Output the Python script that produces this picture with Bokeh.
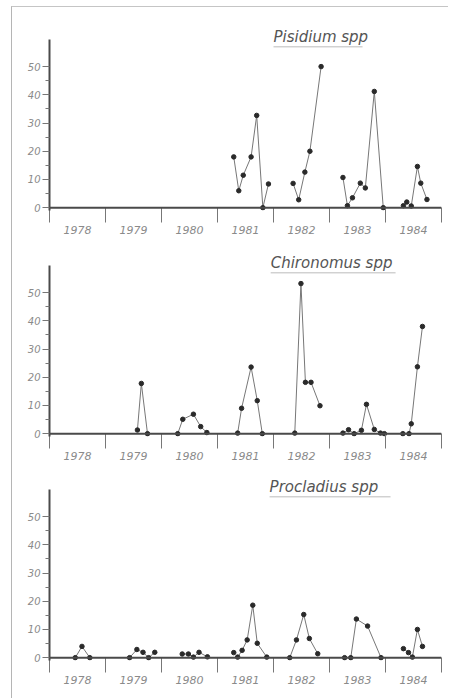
import numpy as np
from bokeh.plotting import figure
from bokeh.layouts import column
from bokeh.models import (Range1d, FixedTicker, CustomJSTickFormatter, Span,
                          Label, Arrow, ColumnDataSource)
from bokeh.embed import file_html
from bokeh.resources import INLINE

nan = float("nan")

# ---- data (decimal year of sampling, count); nan breaks the line between seasons ----
species = ["Pisidium spp", "Chironomus spp", "Procladius spp"]
years = [1978, 1979, 1980, 1981, 1982, 1983, 1984]
y_ticks = [0, 10, 20, 30, 40, 50]

pis_date = [1981.29, 1981.38, 1981.46, 1981.60, 1981.70, 1981.81, 1981.91, nan,
            1982.35, 1982.45, 1982.56, 1982.65, 1982.85, nan,
            1983.24, 1983.32, 1983.41, 1983.55, 1983.64, 1983.80, 1983.96, nan,
            1984.32, 1984.38, 1984.46, 1984.57, 1984.63, 1984.74]
pis_count = [18, 6, 11.5, 18, 32.7, 0, 8.4, nan,
             8.6, 2.8, 12.6, 20, 50, nan,
             10.7, 0.7, 3.5, 8.7, 7, 41.2, 0, nan,
             0.7, 2, 0.6, 14.6, 8.7, 2.9]

chi_date = [1979.57, 1979.64, 1979.75, nan,
            1980.29, 1980.38, 1980.57, 1980.70, 1980.81, nan,
            1981.36, 1981.43, 1981.60, 1981.71, 1981.80, nan,
            1982.38, 1982.49, 1982.57, 1982.67, 1982.83, nan,
            1983.24, 1983.34, 1983.44, 1983.57, 1983.66, 1983.80, 1983.91, 1983.98, nan,
            1984.31, 1984.42, 1984.46, 1984.57, 1984.66]
chi_count = [1.3, 17.8, 0, nan,
             0, 5.1, 6.9, 2.5, 0.4, nan,
             0.2, 9, 23.6, 11.7, 0, nan,
             0.2, 53.2, 18.2, 18.2, 9.9, nan,
             0.2, 1.4, 0, 1.2, 10.4, 1.5, 0.2, 0, nan,
             0, 0, 3.5, 23.7, 38]

pro_date = [1978.46, 1978.58, 1978.72, nan,
            1979.43, 1979.56, 1979.67, 1979.77, 1979.88, nan,
            1980.37, 1980.48, 1980.57, 1980.67, 1980.82, nan,
            1981.29, nan,
            1981.36, 1981.44, 1981.53, 1981.63, 1981.71, 1981.88, nan,
            1982.29, 1982.41, 1982.54, 1982.64, 1982.79, nan,
            1983.27, 1983.38, 1983.48, 1983.68, 1983.92, nan,
            1984.32, 1984.41, 1984.48, 1984.57, 1984.66]
pro_count = [0, 4, 0, nan,
             0, 2.9, 1.9, 0, 1.9, nan,
             1.3, 1.3, 0.2, 1.9, 0.3, nan,
             1.8, nan,
             0.2, 2.6, 6.3, 18.6, 5.1, 0.2, nan,
             0, 6.3, 15.3, 6.8, 1.4, nan,
             0, 0, 13.7, 11.2, 0, nan,
             3.2, 1.8, 0.2, 10, 4]

# title start / underline end (in years along the axis)
title_x = [1982.0, 1981.95, 1981.93]
underline_end = [1983.59, 1984.18, 1984.09]

FONT = "DejaVu Sans"

# figure layout (px)
fig_tops = [21, 14, 12]
fig_bottoms = [30, 30, 38]
FRAME_H = 182


def make_panel(name, dates, counts, tx, uend, top, bottom):
    h = top + FRAME_H + bottom
    p = figure(width=436, height=h,
               x_range=Range1d(1978, 1985), y_range=Range1d(-1, 63.5),
               output_backend="svg", toolbar_location=None,
               min_border_left=37, min_border_right=7,
               min_border_top=top, min_border_bottom=bottom)
    p.outline_line_color = None
    p.xgrid.visible = False
    p.ygrid.visible = False
    p.background_fill_color = "white"
    p.border_fill_color = "white"

    src = ColumnDataSource(dict(date=np.array(dates, dtype=float),
                                count=np.array(counts, dtype=float)))
    p.line("date", "count", source=src, line_color="#777", line_width=1)
    p.scatter("date", "count", source=src, size=4.5, color="#2a2a2a")

    # baseline at zero
    p.add_layout(Span(location=0, dimension="width", line_color="#4a4a4a",
                      line_width=2))

    # x axis: year labels in the middle of each year, ticks at year boundaries
    xa = p.xaxis[0]
    xa.ticker = FixedTicker(ticks=[y + 0.5 for y in years],
                            minor_ticks=years + [years[-1] + 1])
    xa.formatter = CustomJSTickFormatter(code="return String(Math.floor(tick));")
    xa.axis_line_color = None
    xa.major_tick_line_color = None
    xa.major_tick_out = 0
    xa.major_tick_in = 0
    xa.minor_tick_in = 3
    xa.minor_tick_out = 12
    xa.minor_tick_line_color = "#777"
    xa.major_label_standoff = 3
    xa.major_label_text_font = FONT
    xa.major_label_text_font_style = "italic"
    xa.major_label_text_font_size = "11px"
    xa.major_label_text_color = "#8a8a8a"

    # y axis (line only up to ~59.5)
    ya = p.yaxis[0]
    ya.bounds = (-1, 59.5)
    ya.ticker = FixedTicker(ticks=y_ticks,
                            minor_ticks=[t + 5 for t in y_ticks[:-1]])
    ya.axis_line_color = "#4a4a4a"
    ya.axis_line_width = 2
    ya.major_tick_out = 7
    ya.major_tick_in = 0
    ya.minor_tick_out = 4
    ya.minor_tick_in = 0
    ya.major_tick_line_color = "#777"
    ya.minor_tick_line_color = "#777"
    ya.major_label_standoff = 2
    ya.major_label_text_font = FONT
    ya.major_label_text_font_style = "italic"
    ya.major_label_text_font_size = "10px"
    ya.major_label_text_color = "#8a8a8a"

    # panel title with underline
    p.add_layout(Label(x=tx, y=60.6, text=name, text_font=FONT,
                       text_font_style="italic", text_font_size="15px",
                       text_color="#555", text_baseline="middle",
                       text_align="left"))
    p.add_layout(Arrow(end=None, x_start=tx, y_start=57.0, x_end=uend,
                       y_end=57.0, line_color="#bbb", line_width=1))
    return p


panels = [
    make_panel(species[i], d, c, title_x[i], underline_end[i],
               fig_tops[i], fig_bottoms[i])
    for i, (d, c) in enumerate([(pis_date, pis_count),
                                (chi_date, chi_count),
                                (pro_date, pro_count)])
]

layout = column(*panels, spacing=0,
                styles={"margin-left": "11px", "margin-top": "6px",
                        "border-left": "1px solid #b5b5b5",
                        "border-top": "1px solid #c5c5c5"})

with open("out.html", "w") as f:
    f.write(file_html(layout, INLINE))
